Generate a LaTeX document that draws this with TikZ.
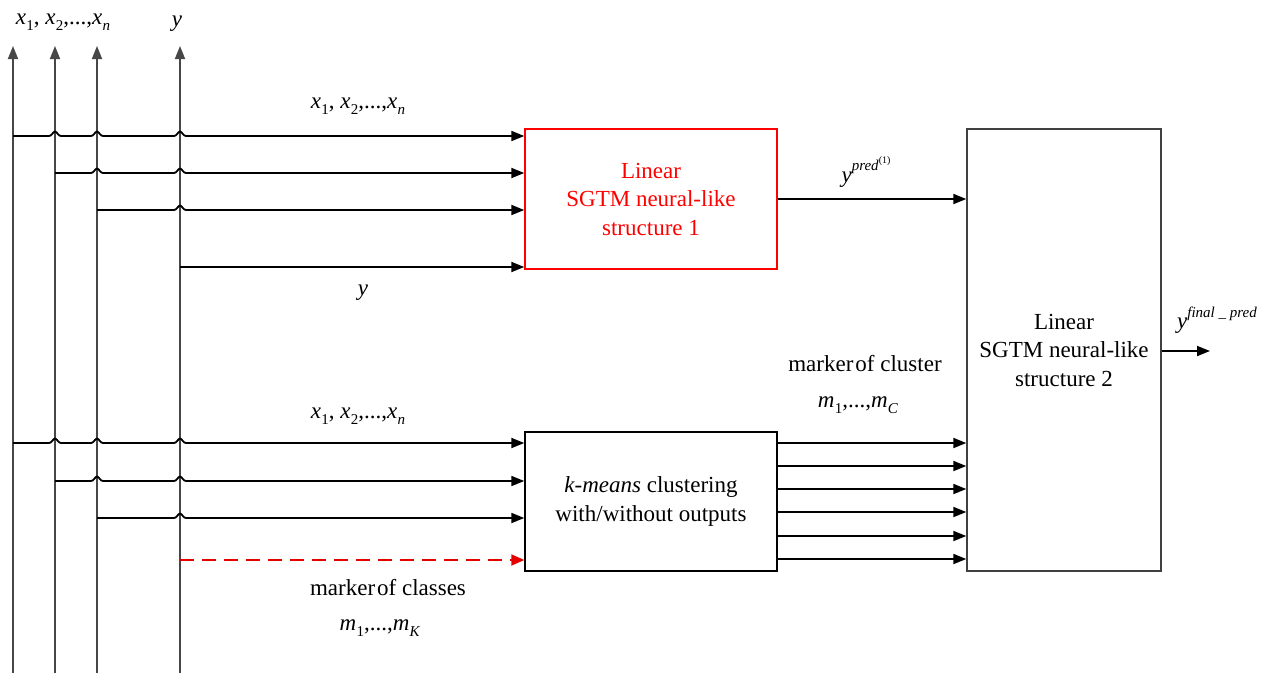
\documentclass[tikz,border=0pt]{standalone}
\usepackage{fontspec}
\setmainfont{Liberation Serif}
\usetikzlibrary{arrows.meta}

% subscripts / superscripts for the variable labels
\newcommand\lowidx[1]{\raisebox{-0.28em}{\fontsize{15}{15}\selectfont #1}}
\newcommand\vx[1]{\textit{x}\kern0.3pt\lowidx{#1}}
\newcommand\vm[1]{\textit{m}\kern0.3pt\lowidx{#1}}
% a wire hopping over a vertical bus line at x = #1, height #2
\newcommand\hopover[2]{-- (#1-6,#2) .. controls (#1-3,#2) and (#1-2,#2-4.5) .. (#1,#2-4.5)
  .. controls (#1+2,#2-4.5) and (#1+3,#2) .. (#1+6,#2)}

\tikzset{
  tip/.style={-{Triangle[length=13pt,width=10pt]}},
  bus/.style={line width=1.8pt, black!72, tip},
  wire/.style={line width=1.8pt, black, tip},
  redwire/.style={line width=1.8pt, red!90!black, dash pattern=on 14pt off 8pt,
    -{Triangle[length=13pt,width=11pt]}},
  blk/.style={draw, line width=1.4pt, inner sep=0pt, align=center,
    font=\fontsize{23}{28.5}\selectfont},
  lbl/.style={inner sep=0pt, font=\fontsize{23}{27}\selectfont}
}

\begin{document}
\begin{tikzpicture}[x=1pt,y=-1pt]
\useasboundingbox (0,0) rectangle (1266,673);

% vertical bus lines
\coordinate (b1) at (13,673);  \coordinate (t1) at (13,46);
\coordinate (b2) at (55,673);  \coordinate (t2) at (55,46);
\coordinate (b3) at (97,673);  \coordinate (t3) at (97,46);
\coordinate (b4) at (180,673); \coordinate (t4) at (180,46);
\foreach \i in {1,...,4} \draw[bus] (b\i) -- (t\i);

\node[lbl] (topx) at (63,22) {\vx{1}, \vx{2},...,\vx{\textit{n}}};
\node[lbl] (topy) at (177,24) {\textit{y}};

% processing blocks
\node[blk, red, minimum width=252pt, minimum height=140pt] (lin1) at (651,199)
  {Linear\\SGTM neural-like\\structure 1};
\node[blk, minimum width=252pt, minimum height=139pt] (km) at (651,501.5)
  {\textit{k-means} clustering\\with/without outputs};
\node[blk, draw=black!75, minimum width=194pt, minimum height=442pt] (lin2) at (1064,350)
  {Linear\\SGTM neural-like\\structure 2};

% inputs of the first linear block
\coordinate (u1) at (lin1.west |- 0,136);
\coordinate (u2) at (lin1.west |- 0,173);
\coordinate (u3) at (lin1.west |- 0,210);
\coordinate (u4) at (lin1.west |- 0,267);
\draw[wire] (b1 |- u1) \hopover{55}{136} \hopover{97}{136} \hopover{180}{136} -- (u1);
\draw[wire] (b2 |- u2) \hopover{97}{173} \hopover{180}{173} -- (u2);
\draw[wire] (b3 |- u3) \hopover{180}{210} -- (u3);
\draw[wire] (b4 |- u4) -- (u4);
\node[lbl] (xa) at (358,106) {\vx{1}, \vx{2},...,\vx{\textit{n}}};
\node[lbl] (ya) at (363,293) {\textit{y}};

% inputs of the clustering block
\coordinate (v1) at (km.west |- 0,443);
\coordinate (v2) at (km.west |- 0,481);
\coordinate (v3) at (km.west |- 0,518);
\coordinate (v4) at (km.west |- 0,560);
\draw[wire] (b1 |- v1) \hopover{55}{443} \hopover{97}{443} \hopover{180}{443} -- (v1);
\draw[wire] (b2 |- v2) \hopover{97}{481} \hopover{180}{481} -- (v2);
\draw[wire] (b3 |- v3) \hopover{180}{518} -- (v3);
\draw[redwire] (b4 |- v4) -- (v4);
\node[lbl] (xb) at (358,416) {\vx{1}, \vx{2},...,\vx{\textit{n}}};
\node[lbl] (mc1) at (388,588) {marker\kern2pt of classes};
\node[lbl] (mk) at (380,628) {\vm{1},...,\vm{\textit{K}}};

% prediction of the first block
\draw[wire] (lin1.east |- 0,199) -- (lin2.west |- 0,199);
\node[lbl] (yp) at (866,172) {\textit{y}\raisebox{0.5em}{\fontsize{15}{15}\selectfont\textit{pred}\raisebox{0.45em}{\fontsize{10}{10}\selectfont(1)}}};

% cluster markers
\foreach \yy in {443,466,489,512,536,559}
  \draw[wire] (km.east |- 0,\yy) -- (lin2.west |- 0,\yy);
\node[lbl] (mc2) at (865,364) {marker\kern2pt of cluster};
\node[lbl] (mcc) at (858,405) {\vm{1},...,\vm{\textit{C}}};

% final output
\coordinate (out) at (1210,351);
\draw[wire] (lin2.east |- out) -- (out);
\node[lbl] (yf) at (1217,320) {\textit{y}\raisebox{0.5em}{\fontsize{15}{15}\selectfont\textit{final \_ pred}}};
\end{tikzpicture}
\end{document}
